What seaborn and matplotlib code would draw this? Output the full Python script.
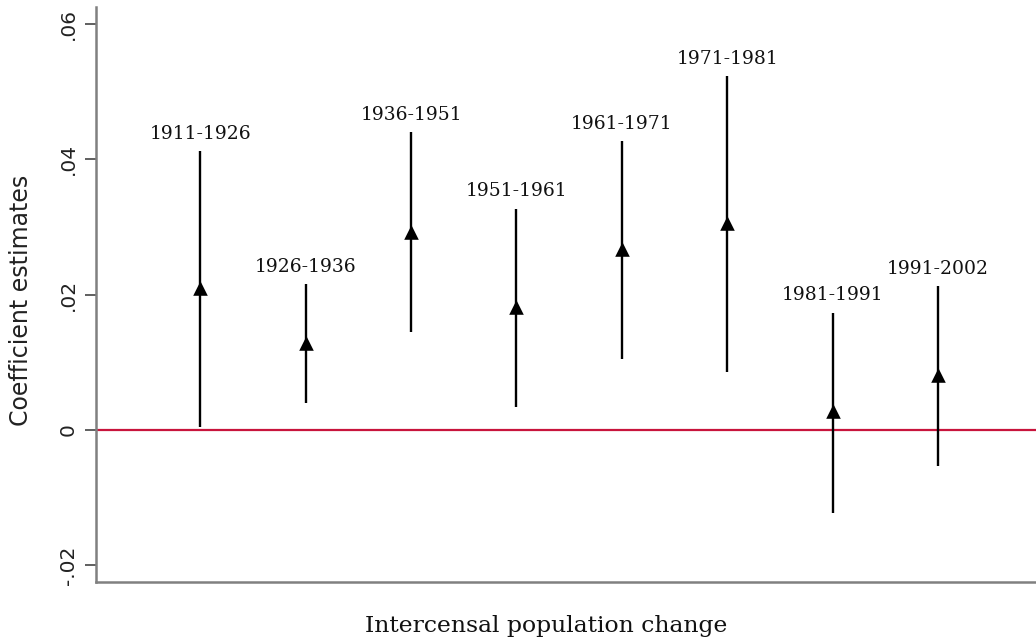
import matplotlib
matplotlib.use('Agg')
import matplotlib.pyplot as plt
import pandas as pd
import seaborn as sns

# Values
periods = ['1911-1926', '1926-1936', '1936-1951', '1951-1961',
           '1961-1971', '1971-1981', '1981-1991', '1991-2002']
coef = [0.0210, 0.0129, 0.0293, 0.0182, 0.0268, 0.0305, 0.0028, 0.0081]
ci_low = [0.0004, 0.0039, 0.0144, 0.0034, 0.0104, 0.0086, -0.0123, -0.0053]
ci_high = [0.0412, 0.0215, 0.0440, 0.0327, 0.0427, 0.0523, 0.0173, 0.0212]
yticks = [-0.02, 0, 0.02, 0.04, 0.06]
ytick_labels = ['-.02', '0', '.02', '.04', '.06']

df = pd.DataFrame({'period': periods, 'coef': coef, 'lo': ci_low, 'hi': ci_high})
df['pos'] = range(1, len(df) + 1)

sns.set_style('white')

fig = plt.figure(figsize=(10.36, 6.42), dpi=100)
ax = fig.add_axes([0.0927, 0.0935, 0.9073, 0.8955])

# zero reference line
ax.axhline(0, color='#c8143c', linewidth=1.6, zorder=1)

# confidence intervals
ax.vlines(df['pos'], df['lo'], df['hi'], color='black', linewidth=1.7, zorder=2)

# point estimates
sns.scatterplot(data=df, x='pos', y='coef', marker='^', s=110, color='black',
                edgecolor='black', linewidth=0, zorder=3, ax=ax, legend=False)

for _, r in df.iterrows():
    ax.annotate(r['period'], (r['pos'], r['hi']), xytext=(0, 6),
                textcoords='offset points', ha='center', va='bottom',
                fontsize=13.5, family='DejaVu Serif', color='#111111')

ax.set_xlim(0.01, 8.93)
ax.set_ylim(-0.0225, 0.0625)
ax.set_yticks(yticks)
ax.set_yticklabels(ytick_labels, rotation=90, va='center', fontsize=14.5, color='#222222')
ax.set_xticks([])

ax.tick_params(axis='y', direction='out', length=8, width=1.2, color='#444444',
               left=True, pad=5)

for side in ['top', 'right']:
    ax.spines[side].set_visible(False)
for side in ['left', 'bottom']:
    ax.spines[side].set_color('#808080')
    ax.spines[side].set_linewidth(1.8)

ax.set_ylabel('Coefficient estimates', fontsize=17, color='#222222')
ax.yaxis.set_label_coords(-0.067, 0.49)
ax.set_xlabel('Intercensal population change', fontsize=16.9, family='DejaVu Serif',
              color='#111111')
ax.xaxis.set_label_coords(0.479, -0.058)

fig.savefig('out.png', dpi=100)
